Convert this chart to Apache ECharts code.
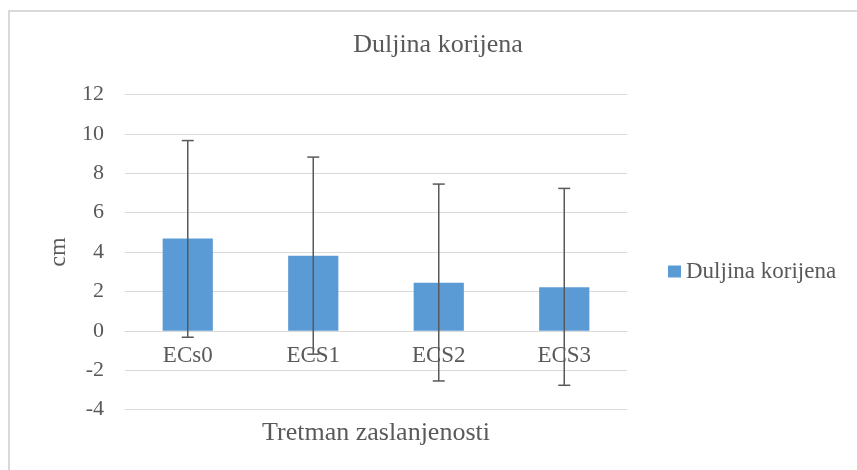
<!DOCTYPE html>
<html>
<head>
<meta charset="utf-8">
<script src="https://cdn.jsdelivr.net/npm/echarts@6/dist/echarts.min.js"></script>
<style>
  html, body { margin: 0; padding: 0; background: #fff; }
  #chart { width: 857px; height: 470px; }
</style>
</head>
<body>
<div id="chart"></div>
<script>
// data
const categories = ['ECs0', 'ECS1', 'ECS2', 'ECS3']
const lengths = [4.68, 3.81, 2.44, 2.21]
const errLow = [-0.33, -1.19, -2.55, -2.77]
const errHigh = [9.66, 8.82, 7.45, 7.23]
const yTicks = { min: -4, max: 12, step: 2 }

const font = '"Liberation Serif", "Times New Roman", serif'
const textColor = '#595959'
const gridColor = '#d9d9d9'

// plot area in pixels
const plotTop = 94.5
const plotBottom = 409.5
const zeroOffset = (plotBottom - plotTop) * (0 - yTicks.min) / (yTicks.max - yTicks.min)

let chart = echarts.init(document.getElementById('chart'))

chart.setOption({
  animation: false,
  backgroundColor: '#fff',
  textStyle: { fontFamily: font, color: textColor },
  graphic: [
    // frame (only top and left edges show)
    { type: 'line', shape: { x1: 8, y1: 11, x2: 857, y2: 11 }, style: { stroke: gridColor, lineWidth: 2 } },
    { type: 'line', shape: { x1: 9, y1: 10, x2: 9, y2: 470 }, style: { stroke: gridColor, lineWidth: 2 } }
  ],
  title: {
    text: 'Duljina korijena',
    left: 438,
    top: 32,
    textAlign: 'center',
    padding: 0,
    textStyle: { fontFamily: font, fontSize: 26, fontWeight: 'normal', color: textColor }
  },
  legend: {
    data: ['Duljina korijena'],
    left: 668,
    top: 260,
    padding: 0,
    itemWidth: 13,
    itemHeight: 12,
    itemGap: 5,
    icon: 'rect',
    textStyle: { fontFamily: font, fontSize: 23, color: textColor, padding: [0, 0, 0, 0] }
  },
  grid: {
    left: 125,
    right: 230,
    top: plotTop,
    bottom: 470 - plotBottom,
    containLabel: false,
    outerBoundsMode: 'none'
  },
  xAxis: {
    type: 'category',
    data: categories,
    position: 'bottom',
    offset: -zeroOffset,
    name: 'Tretman zaslanjenosti',
    nameLocation: 'middle',
    nameGap: 89,
    nameTextStyle: { fontFamily: font, fontSize: 26, color: textColor },
    axisLine: { show: true, onZero: false, lineStyle: { color: gridColor, width: 1 } },
    axisTick: { show: false },
    axisLabel: { fontFamily: font, fontSize: 23, color: textColor, margin: 14 }
  },
  yAxis: {
    type: 'value',
    min: yTicks.min,
    max: yTicks.max,
    interval: yTicks.step,
    name: 'cm',
    nameLocation: 'middle',
    nameGap: 50,
    nameTextStyle: { fontFamily: font, fontSize: 24, color: textColor },
    axisLine: { show: false },
    axisTick: { show: false },
    axisLabel: { fontFamily: font, fontSize: 22, color: textColor, margin: 21 },
    splitLine: { lineStyle: { color: gridColor, width: 1 } }
  },
  series: [
    {
      name: 'Duljina korijena',
      type: 'bar',
      data: lengths,
      barWidth: '40%',
      itemStyle: { color: '#5b9bd5' },
      z: 2
    },
    {
      // error bars
      type: 'custom',
      data: categories.map((c, i) => [i, errLow[i], errHigh[i]]),
      z: 3,
      renderItem (params, api) {
        let i = api.value(0)
        let lo = api.coord([i, api.value(1)])
        let hi = api.coord([i, api.value(2)])
        let half = 6
        let style = { stroke: '#595959', lineWidth: 1.5 }
        return {
          type: 'group',
          children: [
            { type: 'line', shape: { x1: hi[0], y1: hi[1], x2: lo[0], y2: lo[1] }, style: style },
            { type: 'line', shape: { x1: hi[0] - half, y1: hi[1], x2: hi[0] + half, y2: hi[1] }, style: style },
            { type: 'line', shape: { x1: lo[0] - half, y1: lo[1], x2: lo[0] + half, y2: lo[1] }, style: style }
          ]
        }
      }
    }
  ]
})
</script>
</body>
</html>
